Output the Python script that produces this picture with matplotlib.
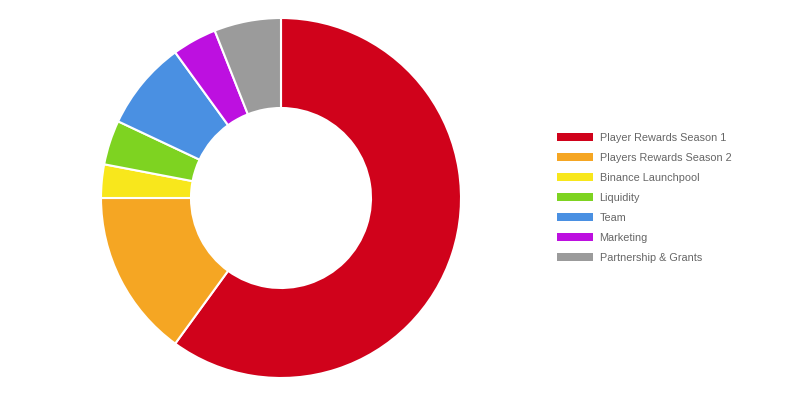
import matplotlib.pyplot as plt
from matplotlib.patches import Patch

labels = ["Player Rewards Season 1", "Players Rewards Season 2", "Binance Launchpool",
          "Liquidity", "Team", "Marketing", "Partnership & Grants"]
shares = [60, 15, 3, 4, 8, 4, 6]
colors = ["#D0021B", "#F5A623", "#F8E71C", "#7ED321", "#4A90E2", "#BD10E0", "#9B9B9B"]

fig = plt.figure(figsize=(7.91, 3.96), dpi=100)
W, H = 791, 396
cx, cy, r = 281, 198, 180
ax = fig.add_axes([(cx - r) / W, (H - cy - r) / H, 2 * r / W, 2 * r / H])

ax.pie(shares, colors=colors, startangle=90, counterclock=False, radius=1,
       wedgeprops=dict(width=0.5, edgecolor="white", linewidth=1.5))
ax.set_xlim(-1, 1)
ax.set_ylim(-1, 1)
ax.set_aspect("equal")
ax.axis("off")

handles = [Patch(facecolor=c, edgecolor="none") for c in colors]
leg = fig.legend(handles, labels, loc="upper left", bbox_to_anchor=(547 / W, 1 - 123 / H),
                 frameon=False, handlelength=3.3, handleheight=0.8,
                 handletextpad=0.65, labelspacing=0.92, labelcolor="#666666",
                 prop={"family": "Liberation Sans", "size": 7.8})

fig.savefig("out.png", dpi=100)
